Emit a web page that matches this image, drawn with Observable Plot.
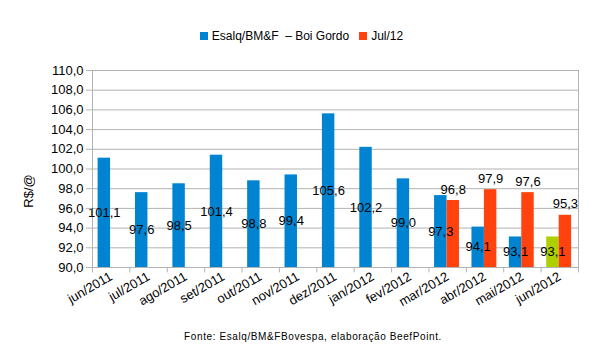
<!DOCTYPE html>
<html>
<head>
<meta charset="utf-8">
<script src="https://cdn.jsdelivr.net/npm/d3@7"></script>
<script src="https://cdn.jsdelivr.net/npm/@observablehq/plot@0.6"></script>
<style>
  html, body { margin: 0; padding: 0; background: #fff; }
  body { width: 603px; height: 364px; font-family: "Liberation Sans", Arial, sans-serif; color: #000; overflow: hidden; }
  #legend { height: 52px; box-sizing: border-box; padding-top: 28px; display: flex; justify-content: center; align-items: flex-start; font-size: 12px; line-height: 16px; }
  .item { display: flex; align-items: center; margin: 0 5px; }
  .sw { width: 8px; height: 8px; margin-right: 4px; display: inline-block; }
  #caption { height: 44px; box-sizing: border-box; padding-top: 10px; padding-left: 23px; text-align: center; font-size: 10px; letter-spacing: 0.6px; line-height: 14px; }
</style>
</head>
<body>
<div id="legend"></div>
<div id="chart"></div>
<div id="caption">Fonte: Esalq/BM&amp;FBovespa, elaboração BeefPoint.</div>
<script>
const months = ["jun/2011","jul/2011","ago/2011","set/2011","out/2011","nov/2011","dez/2011","jan/2012","fev/2012","mar/2012","abr/2012","mai/2012","jun/2012"];
const boiGordo = [101.1, 97.6, 98.5, 101.4, 98.8, 99.4, 105.6, 102.2, 99.0, 97.3, 94.1, 93.1, 93.1];
const jul12 = [null, null, null, null, null, null, null, null, null, 96.8, 97.9, 97.6, 95.3];
const seriesNames = ["Esalq/BM&F  – Boi Gordo", "Jul/12"];
const yTicks = [90, 92, 94, 96, 98, 100, 102, 104, 106, 108, 110];

const BLUE = "#0084d1", ORANGE = "#ff420e", GREEN = "#aecf00", GRID = "#b3b3b3";
const base = yTicks[0];
const fmt = v => v.toFixed(1).replace(".", ",");

const blue = months.map((m, i) => ({i, month: m, value: boiGordo[i]}));
const orange = months.map((m, i) => ({i, month: m, value: jul12[i]})).filter(d => d.value != null);
const lastIdx = months.length - 1;

// legend
const legend = document.getElementById("legend");
[[BLUE, seriesNames[0]], [ORANGE, seriesNames[1]]].forEach(([c, t]) => {
  const it = document.createElement("span");
  it.className = "item";
  it.innerHTML = `<span class="sw" style="background:${c}"></span><span style="white-space:pre">${t}</span>`;
  legend.appendChild(it);
});

const g0 = 0.15, g1 = 0.483, g2 = 0.816;

const chart = Plot.plot({
  width: 603,
  height: 268,
  marginTop: 18,
  marginBottom: 53,
  marginLeft: 92,
  marginRight: 25,
  style: {fontFamily: "'Liberation Sans', Arial, sans-serif", fontSize: "13px", color: "#000", background: "#fff"},
  x: {domain: [0, months.length]},
  y: {domain: [yTicks[0], yTicks[yTicks.length - 1]]},
  marks: [
    Plot.ruleY(yTicks, {stroke: GRID, strokeWidth: 1}),
    Plot.ruleX([0, months.length], {stroke: GRID}),
    Plot.ruleX(d3.range(months.length + 1), {y1: base, y2: base - 0.55, stroke: GRID}),
    Plot.rect(blue, {x1: d => d.i + g0, x2: d => d.i + g1, y1: base, y2: "value", fill: d => d.i === lastIdx ? GREEN : BLUE}),
    Plot.rect(orange, {x1: d => d.i + g1, x2: d => d.i + g2, y1: base, y2: "value", fill: ORANGE}),
    Plot.text(blue, {x: d => d.i + (g0 + g1) / 2, y: d => (base + d.value) / 2, text: d => fmt(d.value), fill: "#000", fontSize: 13}),
    Plot.text(orange, {x: d => d.i + (g1 + g2) / 2, y: "value", dy: -11, text: d => fmt(d.value), fill: "#000", fontSize: 13}),
    Plot.axisY(yTicks, {tickSize: 6, tickPadding: 3, stroke: GRID, fill: "#000", tickFormat: fmt, label: null, fontSize: 13}),
    Plot.axisX(months.map((m, i) => i + 0.5), {tickSize: 0, tickPadding: 8, tickRotate: -30, tickFormat: v => months[Math.floor(v)], label: null, fill: "#000", fontSize: 13}),
    Plot.text(["R$/@"], {frameAnchor: "left", rotate: -90, dx: -64, dy: 22, textAnchor: "middle", fill: "#000", fontSize: 13})
  ]
});
document.getElementById("chart").appendChild(chart);
</script>
</body>
</html>
